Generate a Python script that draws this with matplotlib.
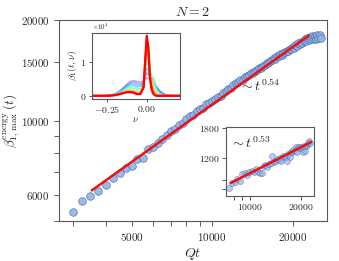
import matplotlib as mpl

mpl.use('Agg')
import matplotlib.pyplot as plt
from matplotlib.ticker import FixedLocator, NullFormatter, FixedFormatter
import numpy as np

plt.rcParams['mathtext.fontset'] = 'cm'
plt.rcParams['font.family'] = ['DejaVu Serif']

# main scatter: time Qt and max energy beta
qt = [3000, 3250, 3500, 3750, 4000, 4250, 4500, 4750, 5000, 5250,
      5500, 5750, 6000, 6250, 6500, 6750, 7000, 7250, 7500, 7750,
      8000, 8250, 8500, 8750, 9000, 9250, 9500, 9750, 10000, 10250,
      10500, 10750, 11000, 11250, 11500, 11750, 12000, 12250, 12500, 12750,
      13000, 13250, 13500, 13750, 14000, 14250, 14500, 14750, 15000, 15250,
      15500, 15750, 16000, 16250, 16500, 16750, 17000, 17250, 17500, 17750,
      18000, 18250, 18500, 18750, 19000, 19250, 19500, 19750, 20000, 20250,
      20500, 20750, 21000, 21250, 21500, 21750, 22000, 22250, 22500, 22750,
      23000, 23250, 23500, 23750, 24000, 24250, 24500, 24750, 25000, 25250,
      25500]
beta_max = [5340, 5735, 5963, 6140, 6430, 6710, 6985, 7190, 7330, 7685,
            7745, 8200, 8320, 8580, 8820, 9060, 9300, 9465, 9710, 9850,
            10080, 10290, 10410, 10660, 10795, 10920, 11175, 11290, 11485, 11580,
            11790, 11875, 12130, 12235, 12465, 12520, 12745, 12945, 13020, 13220,
            13265, 13485, 13590, 13670, 13865, 13925, 14120, 14175, 14365, 14390,
            14610, 14625, 14845, 14860, 15080, 15150, 15355, 15330, 15565, 15565,
            15785, 15690, 15970, 16000, 16185, 16140, 16395, 16345, 16565, 16515,
            16900, 16780, 17065, 16925, 17230, 17065, 17350, 17500, 17310, 17650,
            17440, 17820, 17560, 17945, 17590, 17975, 17610, 18000, 17630, 18010,
            17730]
fit_qt = [3550, 22980]
fit_beta = [6185, 17960]

# inset: N = 2 second quantity
in_qt = [7500, 7800, 8100, 8400, 8700, 9000, 9300, 9600, 9900, 10200,
         10500, 10800, 11100, 11400, 11700, 12000, 12300, 12600, 12900, 13200,
         13500, 13800, 14100, 14400, 14700, 15000, 15300, 15600, 15900, 16200,
         16500, 16800, 17100, 17400, 17700, 18000, 18300, 18600, 18900, 19200,
         19500, 19800, 20100, 20400, 20700, 21000, 21300, 21600, 21900, 22200,
         22500]
in_val = [810, 862, 880, 905, 885, 975, 985, 960, 1000, 1015,
          1000, 1040, 1002, 990, 992, 1085, 1105, 1075, 1118, 1125,
          1235, 1148, 1160, 1185, 1178, 1206, 1162, 1240, 1228, 1226,
          1155, 1270, 1216, 1310, 1300, 1340, 1330, 1398, 1310, 1390,
          1372, 1395, 1402, 1310, 1410, 1328, 1420, 1436, 1480, 1520,
          1470]
in_fit_qt = [7725, 22830]
in_fit_val = [866, 1493]

# beta_1(t, nu) profiles, units of 1e4, early -> late
nu = [-0.34, -0.28, -0.24, -0.2, -0.17, -0.14, -0.12, -0.1, -0.08, -0.06,
      -0.04, -0.02, -0.01, 0.0, 0.01, 0.02, 0.03, 0.04, 0.05, 0.06,
      0.08, 0.1, 0.12, 0.14, 0.17, 0.21]
profiles = [
    [0, 0, 0.01, 0.05, 0.14, 0.27, 0.36, 0.43, 0.45, 0.43, 0.40, 0.44, 0.49, 0.53, 0.52, 0.49, 0.44, 0.38, 0.32, 0.26, 0.16, 0.08, 0.035, 0.012, 0, 0],
    [0, 0, 0.01, 0.045, 0.13, 0.25, 0.33, 0.39, 0.40, 0.37, 0.34, 0.40, 0.52, 0.68, 0.65, 0.57, 0.50, 0.43, 0.35, 0.27, 0.14, 0.065, 0.028, 0.01, 0, 0],
    [0, 0, 0.008, 0.04, 0.11, 0.22, 0.29, 0.34, 0.34, 0.30, 0.28, 0.38, 0.58, 0.82, 0.77, 0.64, 0.55, 0.47, 0.37, 0.26, 0.12, 0.05, 0.02, 0.006, 0, 0],
    [0, 0, 0.006, 0.035, 0.10, 0.19, 0.25, 0.29, 0.28, 0.23, 0.20, 0.32, 0.62, 1.02, 0.90, 0.68, 0.59, 0.53, 0.40, 0.23, 0.07, 0.025, 0.008, 0, 0, 0],
    [0, 0, 0.005, 0.03, 0.085, 0.16, 0.21, 0.235, 0.22, 0.16, 0.13, 0.28, 0.70, 1.22, 1.05, 0.72, 0.61, 0.54, 0.33, 0.14, 0.035, 0.01, 0, 0, 0, 0],
    [0, 0, 0.004, 0.027, 0.075, 0.13, 0.17, 0.18, 0.16, 0.11, 0.095, 0.26, 0.80, 1.42, 1.22, 0.72, 0.52, 0.40, 0.20, 0.07, 0.012, 0, 0, 0, 0, 0],
    [0, 0, 0.004, 0.022, 0.065, 0.11, 0.14, 0.145, 0.12, 0.08, 0.075, 0.25, 0.88, 1.58, 1.33, 0.67, 0.38, 0.23, 0.09, 0.025, 0, 0, 0, 0, 0, 0],
    [0, 0, 0.003, 0.02, 0.055, 0.095, 0.12, 0.12, 0.10, 0.06, 0.06, 0.25, 0.95, 1.70, 1.40, 0.60, 0.27, 0.12, 0.04, 0.01, 0, 0, 0, 0, 0, 0],
    [0, 0, 0.003, 0.018, 0.05, 0.09, 0.11, 0.11, 0.09, 0.05, 0.05, 0.25, 1.02, 1.80, 1.46, 0.55, 0.20, 0.07, 0.02, 0, 0, 0, 0, 0, 0, 0],
]

spine_c = '0.35'
text_c = '0.15'


def style_axes(ax, lw=0.8):
    for s in ax.spines.values():
        s.set_color(spine_c)
        s.set_linewidth(lw)
    ax.tick_params(which='both', direction='out', color=spine_c, labelcolor=text_c,
                   top=False, right=False, width=0.7)


def set_log_ticks(axis, major, minor, fs):
    axis.set_major_locator(FixedLocator(major))
    axis.set_major_formatter(FixedFormatter(['$%d$' % v for v in major]))
    axis.set_minor_locator(FixedLocator(minor))
    axis.set_minor_formatter(NullFormatter())
    for lab in axis.get_ticklabels():
        lab.set_fontsize(fs)


fig = plt.figure(figsize=(3.39, 2.61), dpi=100)

ax = fig.add_axes([0.174, 0.153, 0.791, 0.770])
ax.set_xscale('log')
ax.set_yscale('log')
ax.scatter(qt, beta_max, s=30, facecolor='#92b2e8', edgecolor='#4d6da8',
           linewidth=0.5, alpha=0.9, zorder=2)
ax.plot(fit_qt, fit_beta, color='#ee1111', lw=1.8, zorder=3)
ax.set_xlim(2670, 26960)
ax.set_ylim(5000, 20000)
style_axes(ax)
set_log_ticks(ax.xaxis, [5000, 10000, 20000], [3000, 4000, 6000, 7000, 8000, 9000], 8)
set_log_ticks(ax.yaxis, [6000, 10000, 15000, 20000], [5000, 7000, 8000, 9000], 7.8)
ax.tick_params(which='both', length=3.5)
ax.set_xlabel('$Qt$', fontsize=10, color=text_c, labelpad=2)
ax.set_ylabel(r'$\beta^{\rm energy}_{1,\,\max}\,(t)$', fontsize=9.5, color=text_c)
ax.yaxis.set_label_coords(-0.142, 0.5)
ax.set_title('$N = 2$', fontsize=10, color=text_c, pad=3)
ax.text(15000, 12700, r'$\sim t^{0.54}$', fontsize=10, color=text_c, ha='center', va='center')

# inset with the nu profiles
ax1 = fig.add_axes([0.2714, 0.6226, 0.2596, 0.251])
cols = plt.cm.rainbow(np.linspace(0, 1, len(profiles)))
for i, prof in enumerate(profiles):
    a = 0.4 + 0.6 * i / (len(profiles) - 1)
    ax1.plot(nu, prof, color=cols[i], lw=1.2 + 0.4 * i / (len(profiles) - 1), alpha=a)
ax1.set_xlim(-0.342, 0.208)
ax1.set_ylim(-0.08, 1.88)
style_axes(ax1)
ax1.tick_params(which='both', length=2.5, pad=1.5)
ax1.set_xticks([-0.25, 0.0])
ax1.set_xticklabels(['$-0.25$', '$0.00$'], fontsize=7)
ax1.set_yticks([0, 1])
ax1.set_yticklabels(['$0$', '$1$'], fontsize=7)
ax1.set_xlabel(r'$\nu$', fontsize=7, color=text_c, labelpad=0)
ax1.set_ylabel(r'$\beta_1(t,\nu)$', fontsize=7, color=text_c, labelpad=1)
ax1.text(0.0, 1.01, r'$\times 10^4$', transform=ax1.transAxes, fontsize=5,
         color=text_c, ha='left', va='bottom')

# inset with second scaling
ax2 = fig.add_axes([0.6667, 0.249, 0.2596, 0.266])
ax2.set_xscale('log')
ax2.set_yscale('log')
ax2.scatter(in_qt, in_val, s=18, facecolor='#92b2e8', edgecolor='#4d6da8',
            linewidth=0.5, alpha=0.65, zorder=2)
ax2.plot(in_fit_qt, in_fit_val, color='#ee1111', lw=1.8, zorder=3)
ax2.set_xlim(7200, 23800)
ax2.set_ylim(725, 1840)
style_axes(ax2)
set_log_ticks(ax2.xaxis, [10000, 20000], [8000, 9000], 7)
set_log_ticks(ax2.yaxis, [1200, 1800], [800, 900], 7)
ax2.tick_params(which='both', length=3, pad=1.5)
ax2.text(0.28, 0.765, r'$\sim t^{0.53}$', transform=ax2.transAxes, fontsize=10,
         color=text_c, ha='center', va='center')

plt.savefig('out.png', dpi=100)
